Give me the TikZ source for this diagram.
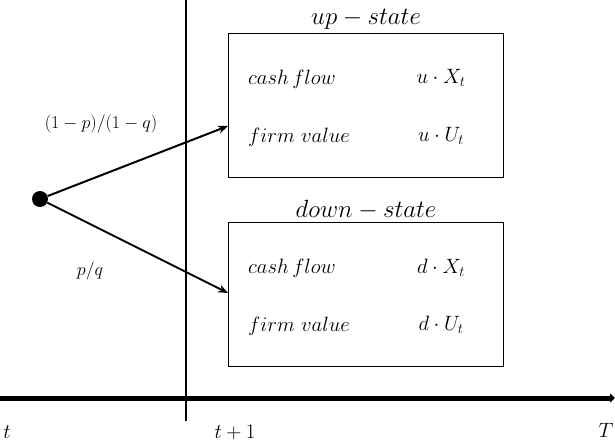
\documentclass[tikz,border=0pt]{standalone}
\usepackage{graphicx}
\usetikzlibrary{arrows.meta}
\newcommand{\smallsc}[1]{\scalebox{0.87}{#1}}
\begin{document}
\begin{tikzpicture}[x=1pt,y=-1pt,
  lbl/.style={inner sep=0pt,font=\fontsize{21}{25}\selectfont},
  small/.style={inner sep=0pt,font=\fontsize{21}{25}\selectfont},
  ttl/.style={inner sep=0pt,font=\fontsize{24}{28}\selectfont},
  statebox/.style={draw,line width=1pt,minimum width=275pt,minimum height=144pt,inner sep=0pt},
  arr/.style={line width=2pt,-{Stealth[length=10pt,width=8pt]}}]
\useasboundingbox (0,0) rectangle (615,442);
% timeline
\coordinate (a0) at (0,398);
\coordinate (a1) at (615,398);
\draw[line width=5pt,-{Stealth[length=5pt,width=9pt,inset=0pt]}] (a0) -- (a1);
\coordinate (v0) at (186,0);
\coordinate (v1) at (186,421);
\draw[line width=2.4pt] (v0) -- (v1);
% boxes
\node[statebox,anchor=north west] (up) at (228,33) {};
\node[statebox,anchor=north west] (down) at (228,222) {};
\node[ttl] (upt) at (366,19) {$up-state$};
\node[ttl] (dnt) at (366,210) {$down-state$};
% dot
\node[circle,fill=black,minimum size=16pt,inner sep=0pt] (dot) at (40,199) {};
\coordinate (ua) at (228,126);
\coordinate (da) at (228,293);
\draw[arr] (dot) -- (ua);
\draw[arr] (dot) -- (da);
\node[small] (pu) at (101,124) {\smallsc{$(1-p)/(1-q)$}};
\node[small] (pd) at (90,271) {\smallsc{$p/q$}};
% box contents
\node[lbl,anchor=west] (c1) at (248,79) {$cash\,flow$};
\node[lbl,anchor=west] (f1) at (248,137) {$firm\ value$};
\node[lbl] (x1) at (441,78) {$u\cdot X_t$};
\node[lbl] (u1) at (441,136) {$u\cdot U_t$};
\node[lbl,anchor=west] (c2) at (248,268) {$cash\,flow$};
\node[lbl,anchor=west] (f2) at (248,326) {$firm\ value$};
\node[lbl] (x2) at (441,268) {$d\cdot X_t$};
\node[lbl] (u2) at (441,325) {$d\cdot U_t$};
% axis labels
\node[lbl] (tl) at (7,432) {$t$};
\node[lbl] (t1) at (235,432) {$t+1$};
\node[lbl] (TT) at (606,430) {$T$};
\end{tikzpicture}
\end{document}
